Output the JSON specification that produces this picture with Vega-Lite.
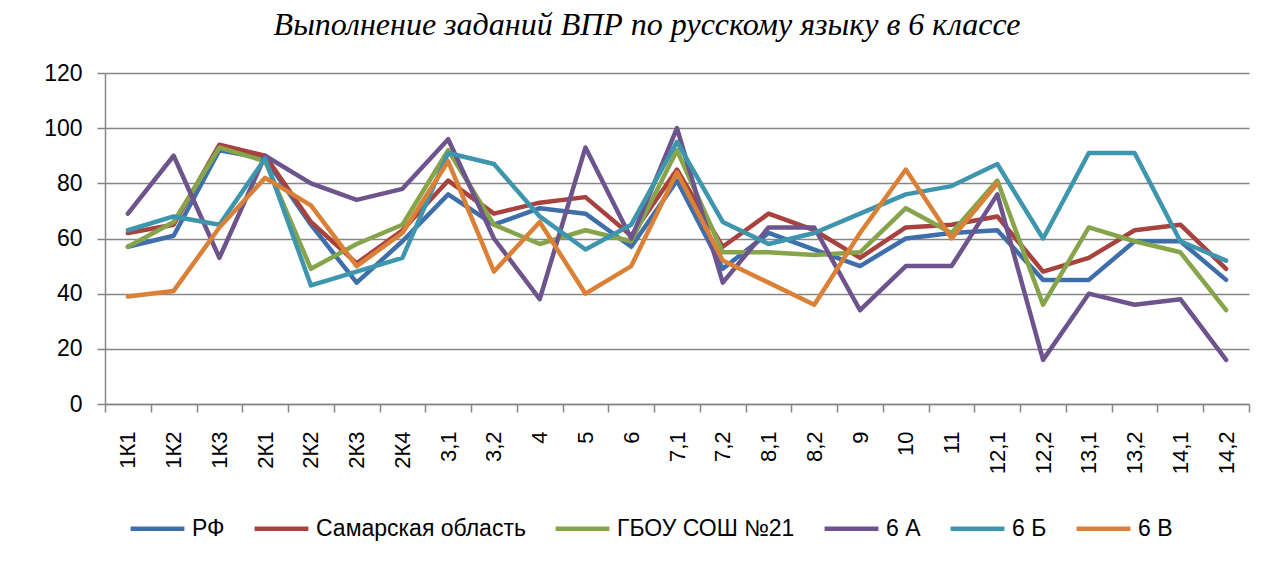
{
  "$schema": "https://vega.github.io/schema/vega-lite/v6.json",
  "width": 1144,
  "height": 331,
  "autosize": {"type": "none"},
  "padding": {"left": 105, "top": 73, "right": 18, "bottom": 158},
  "background": "white",
  "title": {
    "text": "Выполнение заданий ВПР по русскому языку в 6 классе",
    "font": "Liberation Serif",
    "fontStyle": "italic",
    "fontWeight": "normal",
    "fontSize": 32,
    "color": "black",
    "anchor": "middle",
    "frame": "group",
    "dx": -30,
    "baseline": "alphabetic",
    "offset": -5
  },
  "config": {"view": {"stroke": null}},
  "datasets": {
    "d": [
      {"q":"1К1","s":"РФ","v":57},{"q":"1К2","s":"РФ","v":61},{"q":"1К3","s":"РФ","v":92},{"q":"2К1","s":"РФ","v":89},{"q":"2К2","s":"РФ","v":65},{"q":"2К3","s":"РФ","v":44},{"q":"2К4","s":"РФ","v":59},{"q":"3,1","s":"РФ","v":76},{"q":"3,2","s":"РФ","v":65},{"q":"4","s":"РФ","v":71},{"q":"5","s":"РФ","v":69},{"q":"6","s":"РФ","v":57},{"q":"7,1","s":"РФ","v":81},{"q":"7,2","s":"РФ","v":49},{"q":"8,1","s":"РФ","v":62},{"q":"8,2","s":"РФ","v":56},{"q":"9","s":"РФ","v":50},{"q":"10","s":"РФ","v":60},{"q":"11","s":"РФ","v":62},{"q":"12,1","s":"РФ","v":63},{"q":"12,2","s":"РФ","v":45},{"q":"13,1","s":"РФ","v":45},{"q":"13,2","s":"РФ","v":59},{"q":"14,1","s":"РФ","v":59},{"q":"14,2","s":"РФ","v":45},
      {"q":"1К1","s":"Самарская область","v":62},{"q":"1К2","s":"Самарская область","v":65},{"q":"1К3","s":"Самарская область","v":94},{"q":"2К1","s":"Самарская область","v":90},{"q":"2К2","s":"Самарская область","v":66},{"q":"2К3","s":"Самарская область","v":51},{"q":"2К4","s":"Самарская область","v":63},{"q":"3,1","s":"Самарская область","v":81},{"q":"3,2","s":"Самарская область","v":69},{"q":"4","s":"Самарская область","v":73},{"q":"5","s":"Самарская область","v":75},{"q":"6","s":"Самарская область","v":61},{"q":"7,1","s":"Самарская область","v":85},{"q":"7,2","s":"Самарская область","v":57},{"q":"8,1","s":"Самарская область","v":69},{"q":"8,2","s":"Самарская область","v":63},{"q":"9","s":"Самарская область","v":53},{"q":"10","s":"Самарская область","v":64},{"q":"11","s":"Самарская область","v":65},{"q":"12,1","s":"Самарская область","v":68},{"q":"12,2","s":"Самарская область","v":48},{"q":"13,1","s":"Самарская область","v":53},{"q":"13,2","s":"Самарская область","v":63},{"q":"14,1","s":"Самарская область","v":65},{"q":"14,2","s":"Самарская область","v":49},
      {"q":"1К1","s":"ГБОУ СОШ №21","v":57},{"q":"1К2","s":"ГБОУ СОШ №21","v":66},{"q":"1К3","s":"ГБОУ СОШ №21","v":93},{"q":"2К1","s":"ГБОУ СОШ №21","v":88},{"q":"2К2","s":"ГБОУ СОШ №21","v":49},{"q":"2К3","s":"ГБОУ СОШ №21","v":58},{"q":"2К4","s":"ГБОУ СОШ №21","v":65},{"q":"3,1","s":"ГБОУ СОШ №21","v":92},{"q":"3,2","s":"ГБОУ СОШ №21","v":65},{"q":"4","s":"ГБОУ СОШ №21","v":58},{"q":"5","s":"ГБОУ СОШ №21","v":63},{"q":"6","s":"ГБОУ СОШ №21","v":59},{"q":"7,1","s":"ГБОУ СОШ №21","v":92},{"q":"7,2","s":"ГБОУ СОШ №21","v":55},{"q":"8,1","s":"ГБОУ СОШ №21","v":55},{"q":"8,2","s":"ГБОУ СОШ №21","v":54},{"q":"9","s":"ГБОУ СОШ №21","v":55},{"q":"10","s":"ГБОУ СОШ №21","v":71},{"q":"11","s":"ГБОУ СОШ №21","v":62},{"q":"12,1","s":"ГБОУ СОШ №21","v":81},{"q":"12,2","s":"ГБОУ СОШ №21","v":36},{"q":"13,1","s":"ГБОУ СОШ №21","v":64},{"q":"13,2","s":"ГБОУ СОШ №21","v":59},{"q":"14,1","s":"ГБОУ СОШ №21","v":55},{"q":"14,2","s":"ГБОУ СОШ №21","v":34},
      {"q":"1К1","s":"6 А","v":69},{"q":"1К2","s":"6 А","v":90},{"q":"1К3","s":"6 А","v":53},{"q":"2К1","s":"6 А","v":90},{"q":"2К2","s":"6 А","v":80},{"q":"2К3","s":"6 А","v":74},{"q":"2К4","s":"6 А","v":78},{"q":"3,1","s":"6 А","v":96},{"q":"3,2","s":"6 А","v":60},{"q":"4","s":"6 А","v":38},{"q":"5","s":"6 А","v":93},{"q":"6","s":"6 А","v":60},{"q":"7,1","s":"6 А","v":100},{"q":"7,2","s":"6 А","v":44},{"q":"8,1","s":"6 А","v":64},{"q":"8,2","s":"6 А","v":64},{"q":"9","s":"6 А","v":34},{"q":"10","s":"6 А","v":50},{"q":"11","s":"6 А","v":50},{"q":"12,1","s":"6 А","v":76},{"q":"12,2","s":"6 А","v":16},{"q":"13,1","s":"6 А","v":40},{"q":"13,2","s":"6 А","v":36},{"q":"14,1","s":"6 А","v":38},{"q":"14,2","s":"6 А","v":16},
      {"q":"1К1","s":"6 Б","v":63},{"q":"1К2","s":"6 Б","v":68},{"q":"1К3","s":"6 Б","v":65},{"q":"2К1","s":"6 Б","v":89},{"q":"2К2","s":"6 Б","v":43},{"q":"2К3","s":"6 Б","v":48},{"q":"2К4","s":"6 Б","v":53},{"q":"3,1","s":"6 Б","v":91},{"q":"3,2","s":"6 Б","v":87},{"q":"4","s":"6 Б","v":68},{"q":"5","s":"6 Б","v":56},{"q":"6","s":"6 Б","v":65},{"q":"7,1","s":"6 Б","v":95},{"q":"7,2","s":"6 Б","v":66},{"q":"8,1","s":"6 Б","v":58},{"q":"8,2","s":"6 Б","v":62},{"q":"9","s":"6 Б","v":69},{"q":"10","s":"6 Б","v":76},{"q":"11","s":"6 Б","v":79},{"q":"12,1","s":"6 Б","v":87},{"q":"12,2","s":"6 Б","v":60},{"q":"13,1","s":"6 Б","v":91},{"q":"13,2","s":"6 Б","v":91},{"q":"14,1","s":"6 Б","v":59},{"q":"14,2","s":"6 Б","v":52},
      {"q":"1К1","s":"6 В","v":39},{"q":"1К2","s":"6 В","v":41},{"q":"1К3","s":"6 В","v":64},{"q":"2К1","s":"6 В","v":82},{"q":"2К2","s":"6 В","v":72},{"q":"2К3","s":"6 В","v":50},{"q":"2К4","s":"6 В","v":62},{"q":"3,1","s":"6 В","v":88},{"q":"3,2","s":"6 В","v":48},{"q":"4","s":"6 В","v":66},{"q":"5","s":"6 В","v":40},{"q":"6","s":"6 В","v":50},{"q":"7,1","s":"6 В","v":84},{"q":"7,2","s":"6 В","v":52},{"q":"8,1","s":"6 В","v":44},{"q":"8,2","s":"6 В","v":36},{"q":"9","s":"6 В","v":62},{"q":"10","s":"6 В","v":85},{"q":"11","s":"6 В","v":60},{"q":"12,1","s":"6 В","v":80}
    ]
  },
  "data": {"name": "d"},
  "mark": {"type": "line", "strokeWidth": 4.5, "strokeJoin": "round", "strokeCap": "round"},
  "encoding": {
    "x": {
      "field": "q",
      "type": "nominal",
      "sort": ["1К1","1К2","1К3","2К1","2К2","2К3","2К4","3,1","3,2","4","5","6","7,1","7,2","8,1","8,2","9","10","11","12,1","12,2","13,1","13,2","14,1","14,2"],
      "scale": {"type": "band", "paddingInner": 0, "paddingOuter": 0},
      "axis": {
        "title": null,
        "labelAngle": -90,
        "labelFont": "Liberation Sans",
        "labelFontSize": 22,
        "labelColor": "black",
        "labelPadding": 19,
        "tickBand": "extent",
        "tickSize": 8,
        "tickColor": "#868686",
        "tickWidth": 1.5,
        "domainColor": "#868686",
        "domainWidth": 1.5,
        "grid": false
      }
    },
    "y": {
      "field": "v",
      "type": "quantitative",
      "scale": {"domain": [0, 120], "nice": false},
      "axis": {
        "title": null,
        "values": [0, 20, 40, 60, 80, 100, 120],
        "labelFont": "Liberation Sans",
        "labelFontSize": 23,
        "labelColor": "black",
        "labelPadding": 15,
        "tickSize": 8,
        "tickColor": "#868686",
        "tickWidth": 1.5,
        "domainColor": "#868686",
        "domainWidth": 1.5,
        "gridColor": "#868686",
        "gridWidth": 1.5
      }
    },
    "color": {
      "field": "s",
      "type": "nominal",
      "scale": {
        "domain": ["РФ","Самарская область","ГБОУ СОШ №21","6 А","6 Б","6 В"],
        "range": ["#3f6faa","#a8423f","#86a44a","#6e548d","#3d96ae","#da8137"]
      },
      "legend": {
        "title": null,
        "orient": "none",
        "direction": "horizontal",
        "columns": 6,
        "legendX": 23,
        "legendY": 426,
        "symbolType": "stroke",
        "symbolSize": 2900,
        "symbolStrokeWidth": 4.5,
        "labelFont": "Liberation Sans",
        "labelFontSize": 23,
        "labelLimit": 400,
        "labelColor": "black",
        "labelOffset": 5,
        "columnPadding": 20
      }
    }
  }
}
